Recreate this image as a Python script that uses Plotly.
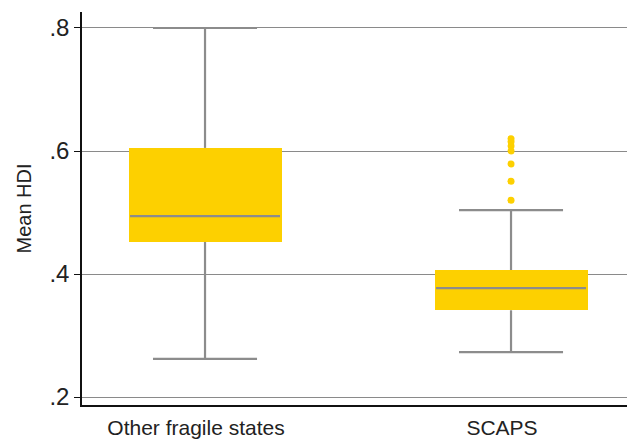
import plotly.graph_objects as go

# data
categories = ["Other fragile states", "SCAPS"]
q1 = [0.452, 0.341]
median = [0.494, 0.377]
q3 = [0.605, 0.4065]
lower_whisker = [0.262, 0.273]
upper_whisker = [0.800, 0.504]
outliers_scaps = [0.620, 0.615, 0.608, 0.600, 0.579, 0.551, 0.520]

GOLD = "#FDD000"
GREY = "#8C8C8C"
BOX_HALF = 0.25
CAP_HALF = 0.17

fig = go.Figure()

for i, cat in enumerate(categories):
    # whiskers (vertical)
    fig.add_trace(go.Scatter(
        x=[i, i, None, i, i],
        y=[q3[i], upper_whisker[i], None, q1[i], lower_whisker[i]],
        mode="lines", line=dict(color=GREY, width=2.2),
        showlegend=False, hoverinfo="skip",
    ))
    # caps
    fig.add_trace(go.Scatter(
        x=[i - CAP_HALF, i + CAP_HALF, None, i - CAP_HALF, i + CAP_HALF],
        y=[upper_whisker[i], upper_whisker[i], None, lower_whisker[i], lower_whisker[i]],
        mode="lines", line=dict(color=GREY, width=2.2),
        showlegend=False, hoverinfo="skip",
    ))

# boxes
fig.add_trace(go.Bar(
    x=list(range(len(categories))),
    y=[b - a for a, b in zip(q1, q3)],
    base=q1,
    width=2 * BOX_HALF,
    marker=dict(color=GOLD, line=dict(width=0)),
    showlegend=False,
))

# medians
for i in range(len(categories)):
    fig.add_trace(go.Scatter(
        x=[i - BOX_HALF + 0.005, i + BOX_HALF - 0.005],
        y=[median[i], median[i]],
        mode="lines", line=dict(color=GREY, width=2.2),
        showlegend=False, hoverinfo="skip",
    ))

# outliers
fig.add_trace(go.Scatter(
    x=[1] * len(outliers_scaps), y=outliers_scaps,
    mode="markers", marker=dict(color=GOLD, size=7),
    showlegend=False,
))

fig.update_layout(
    width=635, height=441,
    margin=dict(l=82, r=8, t=12, b=36),
    paper_bgcolor="white", plot_bgcolor="white",
    font=dict(family="Liberation Sans, Arial, sans-serif", color="#222"),
    bargap=0,
)
fig.update_xaxes(
    range=[-0.402, 1.379],
    tickvals=[0, 1], ticktext=categories,
    tickfont=dict(size=21),
    ticklabelshift=-9, ticklabelstandoff=3,
    automargin=False,
    showgrid=False, zeroline=False,
    showline=True, linecolor="#111", linewidth=1.5,
    ticks="", fixedrange=True,
)
fig.update_yaxes(
    range=[0.187, 0.826],
    tickvals=[0.2, 0.4, 0.6, 0.8], ticktext=[".2", ".4", ".6", ".8"],
    tickfont=dict(size=24),
    title=dict(text="Mean HDI", font=dict(size=20), standoff=12),
    automargin=False,
    showgrid=True, gridcolor="#8a8a8a", gridwidth=1,
    zeroline=False,
    showline=True, linecolor="#111", linewidth=1.5,
    ticks="outside", ticklen=6, tickcolor="#111", tickwidth=1,
)

fig.write_html("out.html", config={"displayModeBar": False},
               post_script="document.body.style.margin='0';")
